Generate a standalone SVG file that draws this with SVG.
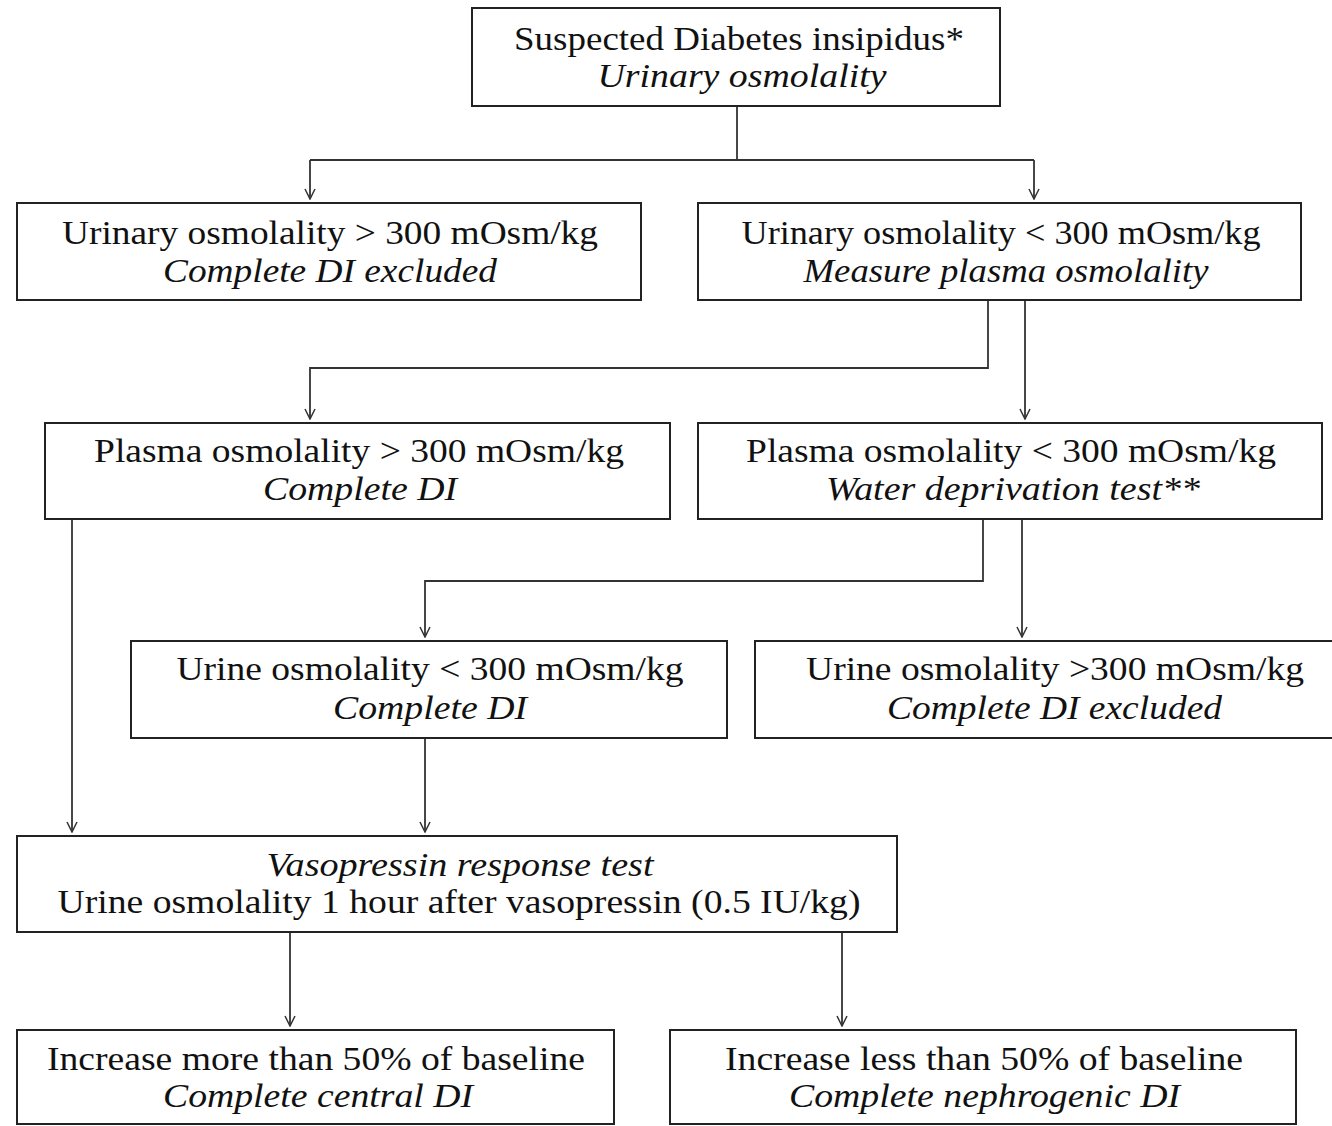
<svg xmlns="http://www.w3.org/2000/svg" width="1332" height="1126" viewBox="0 0 1332 1126">
<style>
.box{fill:#fff;stroke:#222;stroke-width:2}
.t{font-family:"Liberation Serif","Times New Roman",serif;font-size:34px;fill:#111;text-anchor:middle}
.i{font-style:italic}
.c{fill:none;stroke:#333;stroke-width:1.8}
</style>
<defs>
<marker id="ah" viewBox="-11 -6 12 12" refX="0" refY="0" markerWidth="12" markerHeight="12" markerUnits="userSpaceOnUse" orient="auto">
<path d="M-10,-5 L0,0 L-10,5" fill="none" stroke="#333" stroke-width="1.5"/>
</marker>
</defs>
<rect width="1332" height="1126" fill="#fff"/>
<g id="connectors">
<path class="c" d="M737,106 V160"/>
<path class="c" d="M310,160 H1034"/>
<path class="c" d="M310,160 V199" marker-end="url(#ah)"/>
<path class="c" d="M1034,160 V199" marker-end="url(#ah)"/>
<path class="c" d="M988,300 V368 H310 V419" marker-end="url(#ah)"/>
<path class="c" d="M1025,300 V419" marker-end="url(#ah)"/>
<path class="c" d="M72,519 V832" marker-end="url(#ah)"/>
<path class="c" d="M983,519 V581 H425 V637" marker-end="url(#ah)"/>
<path class="c" d="M1022,519 V637" marker-end="url(#ah)"/>
<path class="c" d="M425,738 V832" marker-end="url(#ah)"/>
<path class="c" d="M290,932 V1026" marker-end="url(#ah)"/>
<path class="c" d="M842,932 V1026" marker-end="url(#ah)"/>
</g>
<g id="n1">
<rect class="box" x="472" y="8" width="528" height="98"/>
<text class="t" x="739" y="50" textLength="450" lengthAdjust="spacingAndGlyphs">Suspected Diabetes insipidus*</text>
<text class="t i" x="742" y="87" textLength="289" lengthAdjust="spacingAndGlyphs">Urinary osmolality</text>
</g>
<g id="n2">
<rect class="box" x="17" y="203" width="624" height="97"/>
<text class="t" x="330" y="244" textLength="536" lengthAdjust="spacingAndGlyphs">Urinary osmolality &gt; 300 mOsm/kg</text>
<text class="t i" x="330" y="282" textLength="334" lengthAdjust="spacingAndGlyphs">Complete DI excluded</text>
</g>
<g id="n3">
<rect class="box" x="698" y="203" width="603" height="97"/>
<text class="t" x="1001" y="244" textLength="519" lengthAdjust="spacingAndGlyphs">Urinary osmolality &lt; 300 mOsm/kg</text>
<text class="t i" x="1006" y="282" textLength="405" lengthAdjust="spacingAndGlyphs">Measure plasma osmolality</text>
</g>
<g id="n4">
<rect class="box" x="45" y="423" width="625" height="96"/>
<text class="t" x="359" y="462" textLength="530" lengthAdjust="spacingAndGlyphs">Plasma osmolality &gt; 300 mOsm/kg</text>
<text class="t i" x="360" y="500" textLength="194" lengthAdjust="spacingAndGlyphs">Complete DI</text>
</g>
<g id="n5">
<rect class="box" x="698" y="423" width="624" height="96"/>
<text class="t" x="1011" y="462" textLength="530" lengthAdjust="spacingAndGlyphs">Plasma osmolality &lt; 300 mOsm/kg</text>
<text class="t i" x="1013" y="500" textLength="374" lengthAdjust="spacingAndGlyphs">Water deprivation test**</text>
</g>
<g id="n6">
<rect class="box" x="131" y="641" width="596" height="97"/>
<text class="t" x="430" y="680" textLength="507" lengthAdjust="spacingAndGlyphs">Urine osmolality &lt; 300 mOsm/kg</text>
<text class="t i" x="430" y="719" textLength="194" lengthAdjust="spacingAndGlyphs">Complete DI</text>
</g>
<g id="n7">
<rect class="box" x="755" y="641" width="600" height="97"/>
<text class="t" x="1055" y="680" textLength="498" lengthAdjust="spacingAndGlyphs">Urine osmolality &gt;300 mOsm/kg</text>
<text class="t i" x="1054.5" y="719" textLength="335" lengthAdjust="spacingAndGlyphs">Complete DI excluded</text>
</g>
<g id="n8">
<rect class="box" x="17" y="836" width="880" height="96"/>
<text class="t i" x="460" y="876" textLength="387" lengthAdjust="spacingAndGlyphs">Vasopressin response test</text>
<text class="t" x="459" y="913" textLength="803" lengthAdjust="spacingAndGlyphs">Urine osmolality 1 hour after vasopressin (0.5 IU/kg)</text>
</g>
<g id="n9">
<rect class="box" x="17" y="1030" width="597" height="94"/>
<text class="t" x="316" y="1070" textLength="538" lengthAdjust="spacingAndGlyphs">Increase more than 50% of baseline</text>
<text class="t i" x="318" y="1107" textLength="310" lengthAdjust="spacingAndGlyphs">Complete central DI</text>
</g>
<g id="n10">
<rect class="box" x="670" y="1030" width="626" height="94"/>
<text class="t" x="984" y="1070" textLength="518" lengthAdjust="spacingAndGlyphs">Increase less than 50% of baseline</text>
<text class="t i" x="984.5" y="1107" textLength="391" lengthAdjust="spacingAndGlyphs">Complete nephrogenic DI</text>
</g>
</svg>
